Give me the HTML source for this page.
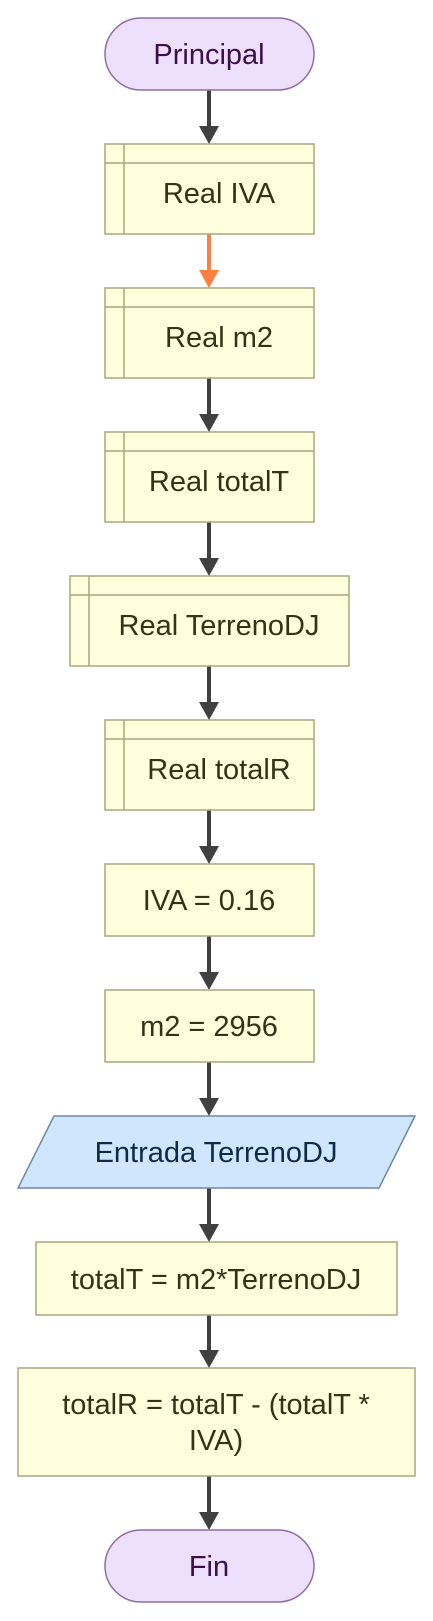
<!DOCTYPE html>
<html><head><meta charset="utf-8"><style>
html,body{margin:0;padding:0;background:#fff;width:433px;height:1621px;overflow:hidden}
</style></head><body>
<svg width="433" height="1621" viewBox="0 0 433 1621" xmlns="http://www.w3.org/2000/svg" font-family="Liberation Sans, Arial, sans-serif" font-size="29" text-anchor="middle">
<g stroke="#404040" stroke-width="4" fill="#404040">
<line x1="209" y1="90" x2="209" y2="128"/><path d="M199,126 L219,126 L209,144 z" stroke="none"/>
<line x1="209" y1="378" x2="209" y2="416"/><path d="M199,414 L219,414 L209,432 z" stroke="none"/>
<line x1="209" y1="522" x2="209" y2="560"/><path d="M199,558 L219,558 L209,576 z" stroke="none"/>
<line x1="209" y1="666" x2="209" y2="704"/><path d="M199,702 L219,702 L209,720 z" stroke="none"/>
<line x1="209" y1="810" x2="209" y2="848"/><path d="M199,846 L219,846 L209,864 z" stroke="none"/>
<line x1="209" y1="936" x2="209" y2="974"/><path d="M199,972 L219,972 L209,990 z" stroke="none"/>
<line x1="209" y1="1062" x2="209" y2="1100"/><path d="M199,1098 L219,1098 L209,1116 z" stroke="none"/>
<line x1="209" y1="1188" x2="209" y2="1226"/><path d="M199,1224 L219,1224 L209,1242 z" stroke="none"/>
<line x1="209" y1="1315" x2="209" y2="1352"/><path d="M199,1350 L219,1350 L209,1368 z" stroke="none"/>
<line x1="209" y1="1476" x2="209" y2="1514"/><path d="M199,1512 L219,1512 L209,1530 z" stroke="none"/>
</g>
<g stroke="#ff7f41" stroke-width="4" fill="#ff7f41">
<line x1="209" y1="234" x2="209" y2="272"/><path d="M199,270 L219,270 L209,288 z" stroke="none"/>
</g>
<g fill="#eee0fc" stroke="#8f6ea6" stroke-width="1.5">
<rect x="105" y="18" width="209" height="72" rx="36"/>
<rect x="105" y="1530" width="209" height="72" rx="36"/>
</g>
<g fill="#3a0f4a"><text x="209" y="64">Principal</text><text x="209" y="1576">Fin</text></g>
<g fill="#ffffde" stroke="#a8a87f" stroke-width="1.5">
<rect x="105" y="144" width="209" height="90"/><line x1="105" y1="163" x2="314" y2="163"/><line x1="124" y1="144" x2="124" y2="234"/>
<rect x="105" y="288" width="209" height="90"/><line x1="105" y1="307" x2="314" y2="307"/><line x1="124" y1="288" x2="124" y2="378"/>
<rect x="105" y="432" width="209" height="90"/><line x1="105" y1="451" x2="314" y2="451"/><line x1="124" y1="432" x2="124" y2="522"/>
<rect x="70" y="576" width="279" height="90"/><line x1="70" y1="595" x2="349" y2="595"/><line x1="89" y1="576" x2="89" y2="666"/>
<rect x="105" y="720" width="209" height="90"/><line x1="105" y1="739" x2="314" y2="739"/><line x1="124" y1="720" x2="124" y2="810"/>
<rect x="105" y="864" width="209" height="72"/>
<rect x="105" y="990" width="209" height="72"/>
<rect x="36" y="1242" width="361" height="73"/>
<rect x="18" y="1368" width="397" height="108"/>
</g>
<polygon points="54,1116 415,1116 379,1188 18,1188" fill="#cfe6fd" stroke="#6d87a8" stroke-width="1.5"/>
<g fill="#333318">
<text x="219" y="203">Real IVA</text>
<text x="219" y="347">Real m2</text>
<text x="219" y="491">Real totalT</text>
<text x="219" y="635">Real TerrenoDJ</text>
<text x="219" y="779">Real totalR</text>
<text x="209" y="910">IVA = 0.16</text>
<text x="209" y="1036">m2 = 2956</text>
<text x="216" y="1289">totalT = m2*TerrenoDJ</text>
<text x="216" y="1414">totalR = totalT - (totalT *</text>
<text x="216" y="1450">IVA)</text>
</g>
<text x="216" y="1162" fill="#0f2a47">Entrada TerrenoDJ</text>
</svg>
</body></html>
